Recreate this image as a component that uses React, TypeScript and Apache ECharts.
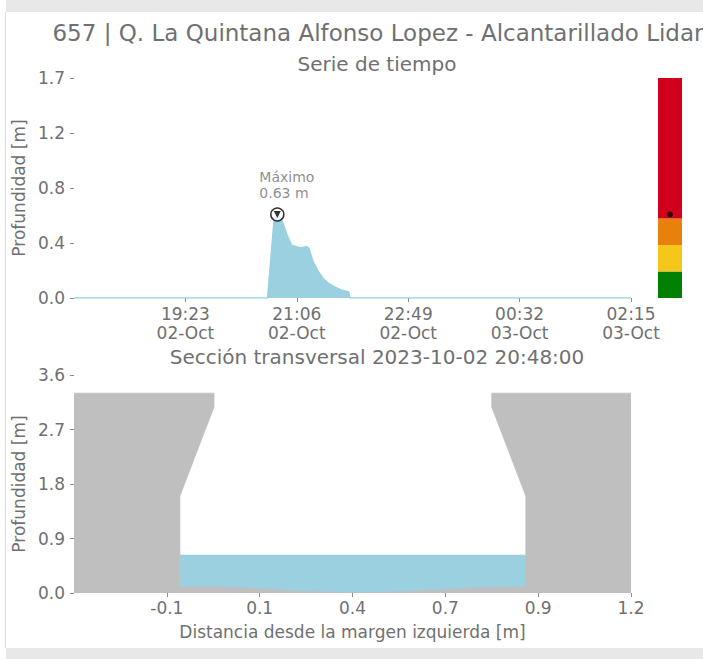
import React, { useEffect, useRef } from "react";
import * as echarts from "echarts";

const TITLE = "657 | Q. La Quintana Alfonso Lopez - Alcantarillado Lidar";
const TS_TITLE = "Serie de tiempo";
const XS_TITLE = "Sección transversal 2023-10-02 20:48:00";
const DEPTH_LABEL = "Profundidad [m]";
const DIST_LABEL = "Distancia desde la margen izquierda [m]";
const MAX_LABEL = "Máximo";

// Time series (depth in m)
const tsTimes = [
  "2023-10-02 17:40", "2023-10-02 20:39", "2023-10-02 20:45", "2023-10-02 20:48",
  "2023-10-02 20:52", "2023-10-02 20:57", "2023-10-02 21:01", "2023-10-02 21:06",
  "2023-10-02 21:10", "2023-10-02 21:15", "2023-10-02 21:17", "2023-10-02 21:21",
  "2023-10-02 21:26", "2023-10-02 21:30", "2023-10-02 21:35", "2023-10-02 21:41",
  "2023-10-02 21:47", "2023-10-02 21:53", "2023-10-02 21:54", "2023-10-02 21:55",
  "2023-10-03 02:15",
];
const tsDepth = [
  0, 0, 0.59, 0.63,
  0.59, 0.475, 0.4, 0.385,
  0.38, 0.387, 0.377, 0.274,
  0.198, 0.151, 0.113, 0.083,
  0.06, 0.048, 0.045, 0,
  0,
];
const tsStart = "2023-10-02 17:40";
const tsEnd = "2023-10-03 02:15";
const tsTicks = ["2023-10-02 19:23", "2023-10-02 21:06", "2023-10-02 22:49", "2023-10-03 00:32", "2023-10-03 02:15"];
const peakTime = "2023-10-02 20:48";
const peakDepth = 0.63;
const depthTicks = [0, 0.415, 0.83, 1.245, 1.66];

// Alert bar
const alertLimits = [0.2, 0.4, 0.6, 1.66];
const alertColors = ["#008000", "#f5c71a", "#e8800c", "#d0001c"];

// Cross section
const secX = [-0.384, 0.014, 0.014, -0.083, -0.083, 0.031, 0.145, 0.259, 0.407, 0.543, 0.657, 0.771, 0.901, 0.901, 0.804, 0.804, 1.2];
const secZ = [3.3, 3.3, 3.07, 1.6, 0.1, 0.1, 0.07, 0.03, 0.005, 0.02, 0.05, 0.09, 0.1, 1.6, 3.07, 3.3, 3.3];
const waterX = [-0.083, 0.901];
const waterLevel = 0.63;
const distTicks = [-0.12, 0.144, 0.408, 0.672, 0.936, 1.2];
const distRange = [-0.384, 1.2];
const elevTicks = [0, 0.9, 1.8, 2.7, 3.6];

const MONTHS = ["Jan", "Feb", "Mar", "Apr", "May", "Jun", "Jul", "Aug", "Sep", "Oct", "Nov", "Dec"];
const FONT = "DejaVu Sans";
const TXT = "#707070";
const TICK = "#8a8a8a";
const WATER = "#9bd0e1";
const GROUND = "#bfbfbf";

function ts(s: string): number {
  const [d, t] = s.split(" ");
  const [y, m, day] = d.split("-").map(Number);
  const [hh, mm] = t.split(":").map(Number);
  return Date.UTC(y, m - 1, day, hh, mm);
}
function fmtTime(v: number): string {
  const d = new Date(v);
  const p = (n: number) => String(n).padStart(2, "0");
  return `${p(d.getUTCHours())}:${p(d.getUTCMinutes())}\n${p(d.getUTCDate())}-${MONTHS[d.getUTCMonth()]}`;
}

export default function App() {
  const ref = useRef<HTMLDivElement>(null);
  useEffect(() => {
    if (!ref.current) return;
    const chart = echarts.init(ref.current, undefined, { renderer: "svg" });
    const labelStyle = { color: TXT, fontFamily: FONT, fontSize: 17 };
    const tickStyle = { show: true, length: 4, lineStyle: { color: TICK, width: 1 } };
    const noLine = { show: false, onZero: false };
    const alertSeg = alertLimits.map((v, i) => v - (i > 0 ? alertLimits[i - 1] : 0));
    const centered = { textAlign: "center", textVerticalAlign: "middle", align: "center", verticalAlign: "middle" };
    const option: any = {
      animation: false,
      backgroundColor: "#ffffff",
      textStyle: { fontFamily: FONT },
      graphic: [
        { type: "rect", shape: { x: 6, y: 0, width: 697, height: 12 }, style: { fill: "#e8e8e8" }, silent: true },
        { type: "rect", shape: { x: 5, y: 12, width: 1, height: 636 }, style: { fill: "#dedede" }, silent: true },
        { type: "rect", shape: { x: 6, y: 648, width: 697, height: 11 }, style: { fill: "#e8e8e8" }, silent: true },
        { type: "text", x: 378, y: 33, style: { text: TITLE, fill: TXT, font: `23px "${FONT}"`, ...centered } },
        { type: "text", x: 377, y: 64, style: { text: TS_TITLE, fill: TXT, font: `20px "${FONT}"`, ...centered } },
        { type: "text", x: 377, y: 357, style: { text: XS_TITLE, fill: TXT, font: `20px "${FONT}"`, ...centered } },
      ],
      grid: [
        { left: 74, top: 78, width: 557, height: 220 },
        { left: 74, top: 375, width: 557, height: 218 },
        { left: 658, top: 78, width: 24, height: 220 },
      ],
      xAxis: [
        {
          type: "value", gridIndex: 0, min: ts(tsStart), max: ts(tsEnd),
          axisLine: noLine, splitLine: { show: false },
          axisTick: { ...tickStyle, customValues: tsTicks.map(ts) },
          axisLabel: { ...labelStyle, margin: 6, lineHeight: 19, customValues: tsTicks.map(ts), formatter: (v: number) => fmtTime(v) },
        },
        {
          type: "value", gridIndex: 1, min: distRange[0], max: distRange[1],
          axisLine: noLine, splitLine: { show: false },
          axisTick: { ...tickStyle, customValues: distTicks },
          axisLabel: { ...labelStyle, margin: 6, customValues: distTicks, formatter: (v: number) => v.toFixed(1) },
          name: DIST_LABEL, nameLocation: "middle", nameGap: 30,
          nameTextStyle: { color: TXT, fontFamily: FONT, fontSize: 17 },
        },
        { type: "category", gridIndex: 2, data: ["nivel"], show: false },
      ],
      yAxis: [
        {
          type: "value", gridIndex: 0, min: 0, max: depthTicks[depthTicks.length - 1],
          axisLine: noLine, splitLine: { show: false },
          axisTick: { ...tickStyle, customValues: depthTicks },
          axisLabel: { ...labelStyle, margin: 9, customValues: depthTicks, formatter: (v: number) => v.toFixed(1) },
          name: DEPTH_LABEL, nameLocation: "middle", nameGap: 40, nameRotate: 90,
          nameTextStyle: { color: TXT, fontFamily: FONT, fontSize: 17 },
        },
        {
          type: "value", gridIndex: 1, min: 0, max: 3.6, interval: 0.9,
          axisLine: noLine, splitLine: { show: false },
          axisTick: { ...tickStyle, customValues: elevTicks },
          axisLabel: { ...labelStyle, margin: 9, customValues: elevTicks, formatter: (v: number) => v.toFixed(1) },
          name: DEPTH_LABEL, nameLocation: "middle", nameGap: 40, nameRotate: 90,
          nameTextStyle: { color: TXT, fontFamily: FONT, fontSize: 17 },
        },
        { type: "value", gridIndex: 2, min: 0, max: depthTicks[depthTicks.length - 1], show: false },
      ],
      series: [
        {
          type: "line", xAxisIndex: 0, yAxisIndex: 0, showSymbol: false, symbol: "none",
          data: tsTimes.map((t, i) => [ts(t), tsDepth[i]]),
          lineStyle: { color: WATER, width: 1.5 }, areaStyle: { color: WATER, opacity: 1 },
          z: 2,
        },
        {
          type: "scatter", xAxisIndex: 0, yAxisIndex: 0, symbol: "circle", symbolSize: 13,
          data: [[ts(peakTime), peakDepth]],
          itemStyle: { color: "#ffffff", borderColor: "#000000", borderWidth: 1.5 },
          label: {
            show: true, position: "top", distance: 6, align: "left", offset: [-18, 0],
            formatter: `${MAX_LABEL}\n${peakDepth.toFixed(2)} m`,
            color: TXT, fontFamily: FONT, fontSize: 14, lineHeight: 16,
          },
          z: 5,
        },
        {
          type: "scatter", xAxisIndex: 0, yAxisIndex: 0, symbol: "triangle", symbolRotate: 180, symbolSize: 7,
          data: [[ts(peakTime), peakDepth]], itemStyle: { color: "#000000" }, z: 6,
        },
        {
          type: "line", xAxisIndex: 1, yAxisIndex: 1, showSymbol: false, symbol: "none",
          data: waterX.map((x) => [x, waterLevel]),
          lineStyle: { color: WATER, width: 0 }, areaStyle: { color: WATER, opacity: 1 }, z: 2,
        },
        {
          type: "line", xAxisIndex: 1, yAxisIndex: 1, showSymbol: false, symbol: "none",
          data: secX.map((x, i) => [x, secZ[i]]),
          lineStyle: { color: GROUND, width: 0.8 }, areaStyle: { color: GROUND, opacity: 1 }, z: 3,
        },
        ...alertSeg.map((v, i) => ({
          type: "bar", xAxisIndex: 2, yAxisIndex: 2, stack: "alert", barWidth: "100%",
          data: [v], itemStyle: { color: alertColors[i] }, silent: true,
        })),
        {
          type: "scatter", xAxisIndex: 2, yAxisIndex: 2, symbol: "circle", symbolSize: 6,
          data: [["nivel", peakDepth]], itemStyle: { color: "#000000" }, z: 10,
        },
      ],
    };
    chart.setOption(option);
    return () => chart.dispose();
  }, []);
  return <div ref={ref} style={{ position: "absolute", left: 0, top: 0, width: 703, height: 659 }} />;
}
